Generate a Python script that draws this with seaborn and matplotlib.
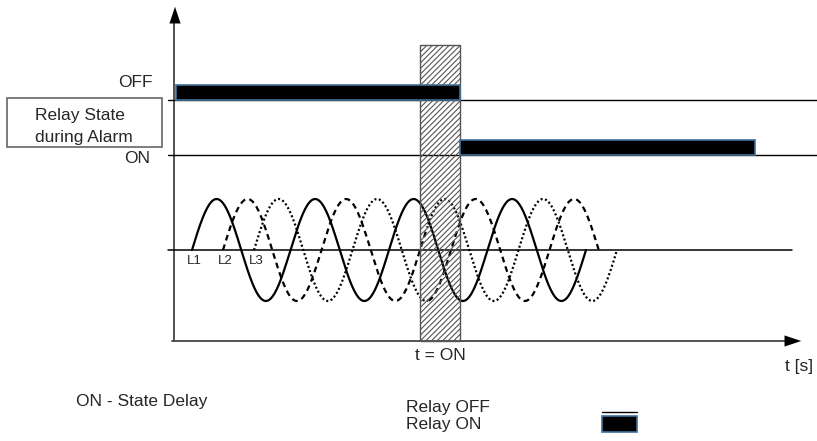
import numpy as np
import pandas as pd
import seaborn as sns
import matplotlib.pyplot as plt
from matplotlib.patches import Rectangle

# diagram coordinates are in pixels of the 817x441 canvas (y grows downward)
wave_names = ["L1", "L2", "L3"]
wave_start = [192, 223, 254]
wave_cycles = [4, 4, 3.5]
wave_period = 98.5
wave_amp = 51
wave_zero = 250
style_before = ["-", (0, (2.6, 1.9)), (0, (0.9, 1.1))]
style_after = ["-", (0, (0.9, 1.1)), (0, (2.6, 1.9))]
style_swap_x = 428

relay_off_span = [176, 460]
relay_on_span = [460, 755]
delay_span = [420, 460]
level_names = ["OFF", "ON"]
level_y = [100, 155]
bar_height = 15

legend_texts = ["Relay OFF", "Relay ON"]
bar_edge = "#41719c"
fs = 12.5

sns.set_style("white")
plt.rcParams["font.family"] = ["Liberation Sans", "DejaVu Sans"]
plt.rcParams["hatch.linewidth"] = 0.8

fig = plt.figure(figsize=(8.17, 4.41), dpi=100)
ax = fig.add_axes([0, 0, 1, 1])
ax.set_xlim(0, 817)
ax.set_ylim(441, 0)
ax.axis("off")

# axes with arrows
ax.plot([174, 174], [341, 22], color="#444444", lw=1.3)
ax.plot([172, 788], [341, 341], color="#444444", lw=1.3)
ax.annotate("", xy=(175, 4), xytext=(175, 24),
            arrowprops=dict(arrowstyle="-|>,head_length=1.2,head_width=0.4", color="black", lw=0.01))
ax.annotate("", xy=(804, 341), xytext=(784, 341),
            arrowprops=dict(arrowstyle="-|>,head_length=1.2,head_width=0.4", color="black", lw=0.01))

# level lines
level_label_pos = [(153, 87), (150, 163)]
for name, y, (lx, ly) in zip(level_names, level_y, level_label_pos):
    ax.plot([168, 817], [y, y], color="black", lw=1.0)
    ax.text(lx, ly, name, ha="right", va="baseline", fontsize=fs)

# relay state bars
ax.add_patch(Rectangle((relay_off_span[0], level_y[0] - bar_height),
                       relay_off_span[1] - relay_off_span[0], bar_height,
                       facecolor="black", edgecolor=bar_edge, lw=1.2, zorder=6))
ax.add_patch(Rectangle((relay_on_span[0], level_y[1] - bar_height),
                       relay_on_span[1] - relay_on_span[0], bar_height,
                       facecolor="black", edgecolor=bar_edge, lw=1.2, zorder=6))

# relay state box
ax.add_patch(Rectangle((7, 98), 155, 49, facecolor="white", edgecolor="#666666", lw=1.2, zorder=2))
ax.text(35, 120, "Relay State", ha="left", va="baseline", fontsize=fs, zorder=4)
ax.text(35, 142, "during Alarm", ha="left", va="baseline", fontsize=fs, zorder=4)

# zero line of waves
ax.plot([168, 792], [wave_zero, wave_zero], color="black", lw=1.1)

# phase waves
for name, x0, cyc, sb, sa in zip(wave_names, wave_start, wave_cycles, style_before, style_after):
    x = np.linspace(x0, x0 + cyc * wave_period, 600)
    y = wave_zero - wave_amp * np.sin(2 * np.pi * (x - x0) / wave_period)
    df = pd.DataFrame({"x": x, "y": y})
    first = df[df["x"] <= style_swap_x]
    second = df[df["x"] >= style_swap_x]
    sns.lineplot(data=first, x="x", y="y", ax=ax, color="black", lw=1.6,
                 linestyle=sb, sort=False, estimator=None)
    sns.lineplot(data=second, x="x", y="y", ax=ax, color="black", lw=1.6,
                 linestyle=sa, sort=False, estimator=None)
    ax.text(x0 + 2, 264, name, ha="center", va="baseline", fontsize=9.5)

# delay window (hatched)
ax.add_patch(Rectangle((delay_span[0], 45), delay_span[1] - delay_span[0], 341 - 45,
                       facecolor="none", edgecolor="#555555", hatch="//////", lw=1.0, zorder=5))
ax.text((delay_span[0] + delay_span[1]) / 2, 360, "t = ON", ha="center", va="baseline", fontsize=fs)
ax.text(799, 371, "t [s]", ha="center", va="baseline", fontsize=fs)

# legend
ax.text(76, 406, "ON - State Delay", ha="left", va="baseline", fontsize=fs)
ax.text(406, 412, legend_texts[0], ha="left", va="baseline", fontsize=fs)
ax.text(406, 429, legend_texts[1], ha="left", va="baseline", fontsize=fs)
ax.plot([602, 637], [412, 412], color="black", lw=1.0)
ax.add_patch(Rectangle((602, 416), 35, 16, facecolor="black", edgecolor=bar_edge, lw=1.2))

fig.savefig("out.png", dpi=100)
